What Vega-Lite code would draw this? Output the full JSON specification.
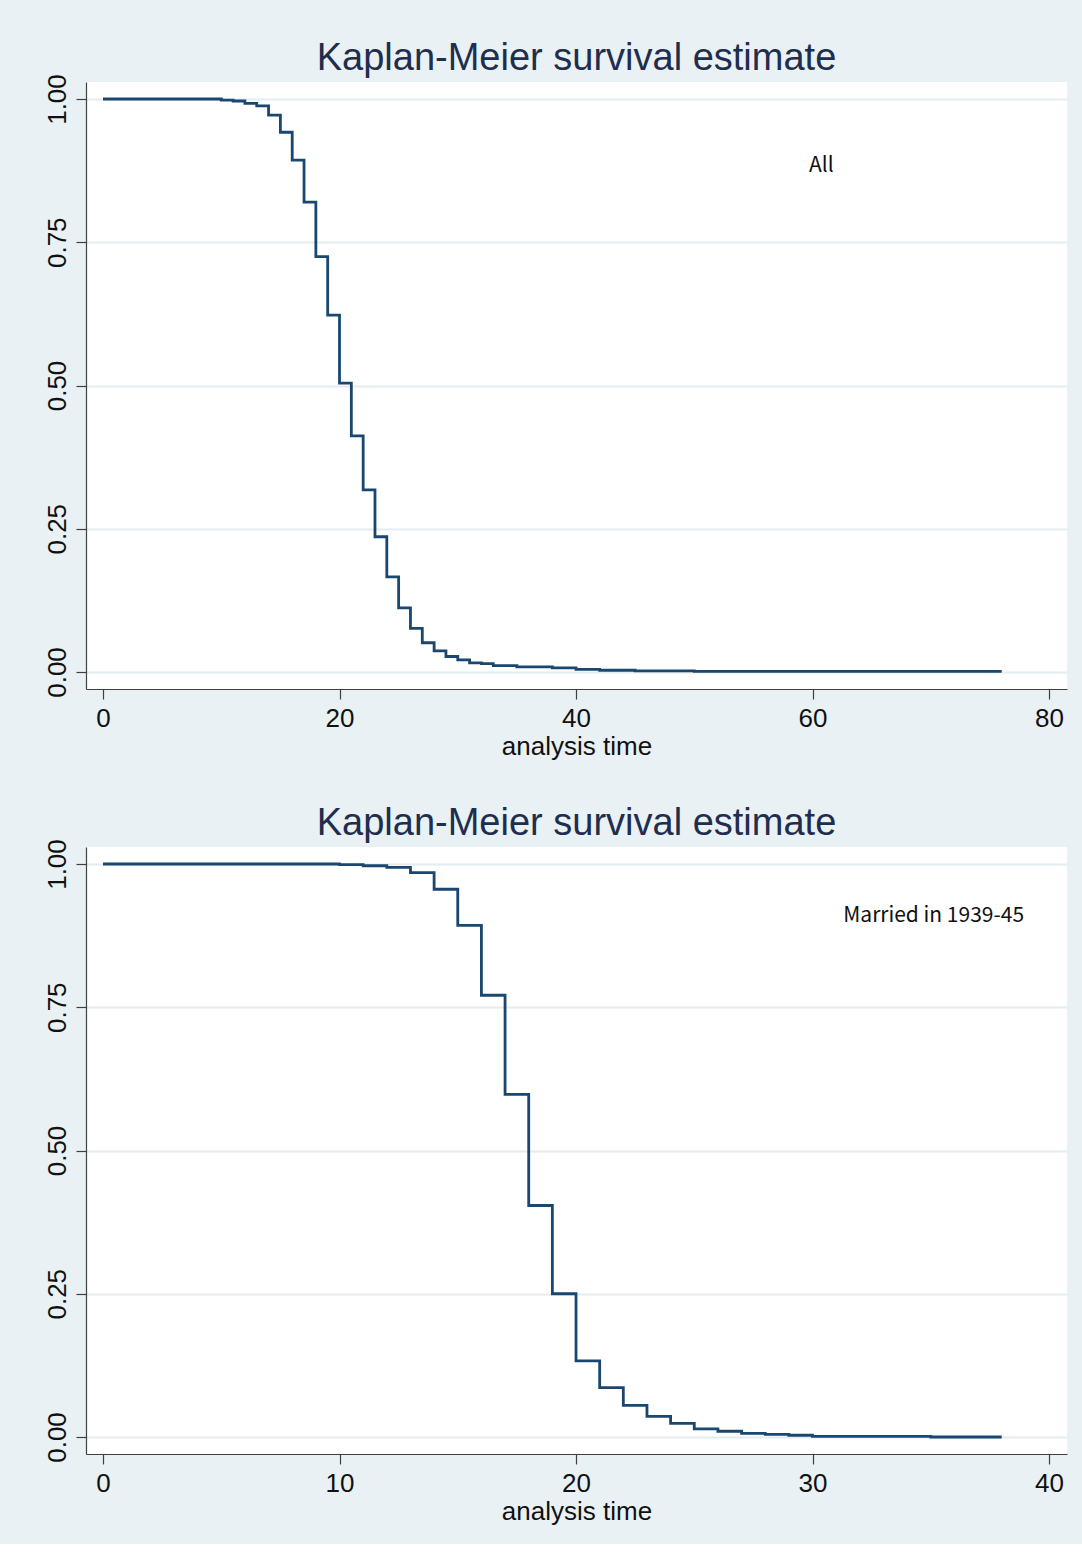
{
  "$schema": "https://vega.github.io/schema/vega-lite/v6.json",
  "background": "#e9f1f4",
  "padding": {"left": 44, "top": 39, "right": 15, "bottom": 20},
  "spacing": 45,
  "config": {
    "view": {"stroke": null, "fill": "white"},
    "font": "Liberation Sans",
    "title": {"fontSize": 38, "fontWeight": "normal", "color": "#1f2d4e", "font": "Liberation Sans", "anchor": "middle", "frame": "group", "offset": -4},
    "axis": {"labelFont": "Liberation Sans", "titleFont": "Liberation Sans", "labelFontSize": 26, "titleFontSize": 26, "labelColor": "#111", "titleColor": "#111", "titleFontWeight": "normal", "domainColor": "#404040", "tickColor": "#404040", "tickSize": 10, "domainWidth": 1.2, "tickWidth": 1.2},
    "axisX": {"grid": false, "labelPadding": 6, "titlePadding": 2},
    "axisY": {"gridColor": "#e3ecef", "gridWidth": 2, "labelAngle": -90, "labelAlign": "center", "labelBaseline": "bottom", "labelPadding": 6}
  },
  "datasets": {
    "all": [
      {"t": 0, "S": 1.0},
      {"t": 10, "S": 0.998},
      {"t": 11, "S": 0.9965},
      {"t": 12, "S": 0.9925},
      {"t": 13, "S": 0.988},
      {"t": 14, "S": 0.972},
      {"t": 15, "S": 0.942},
      {"t": 16, "S": 0.8935},
      {"t": 17, "S": 0.82},
      {"t": 18, "S": 0.725},
      {"t": 19, "S": 0.623},
      {"t": 20, "S": 0.504},
      {"t": 21, "S": 0.412},
      {"t": 22, "S": 0.318},
      {"t": 23, "S": 0.236},
      {"t": 24, "S": 0.166},
      {"t": 25, "S": 0.112},
      {"t": 26, "S": 0.076},
      {"t": 27, "S": 0.051},
      {"t": 28, "S": 0.037},
      {"t": 29, "S": 0.027},
      {"t": 30, "S": 0.021},
      {"t": 31, "S": 0.016},
      {"t": 32, "S": 0.0145},
      {"t": 33, "S": 0.011},
      {"t": 35, "S": 0.009},
      {"t": 38, "S": 0.007},
      {"t": 40, "S": 0.0047},
      {"t": 42, "S": 0.003},
      {"t": 45, "S": 0.002},
      {"t": 50, "S": 0.001},
      {"t": 76, "S": 0.001}
    ],
    "married": [
      {"t": 0, "S": 1.0},
      {"t": 10, "S": 0.999},
      {"t": 11, "S": 0.997},
      {"t": 12, "S": 0.994},
      {"t": 13, "S": 0.985},
      {"t": 14, "S": 0.956},
      {"t": 15, "S": 0.893},
      {"t": 16, "S": 0.771},
      {"t": 17, "S": 0.598},
      {"t": 18, "S": 0.404},
      {"t": 19, "S": 0.25},
      {"t": 20, "S": 0.133},
      {"t": 21, "S": 0.086},
      {"t": 22, "S": 0.055},
      {"t": 23, "S": 0.036},
      {"t": 24, "S": 0.0239},
      {"t": 25, "S": 0.014},
      {"t": 26, "S": 0.01},
      {"t": 27, "S": 0.0064},
      {"t": 28, "S": 0.0047},
      {"t": 29, "S": 0.003},
      {"t": 30, "S": 0.0012},
      {"t": 35, "S": 0.0},
      {"t": 38, "S": 0.0}
    ],
    "labels": [
      {"panel": "all", "t": 59.7, "S": 0.883, "label": "All"},
      {"panel": "married", "t": 31.3, "S": 0.909, "label": "Married in 1939-45"}
    ]
  },
  "vconcat": [
    {
      "title": "Kaplan-Meier survival estimate",
      "width": 981,
      "height": 607,
      "layer": [
        {
          "data": {"name": "all"},
          "mark": {"type": "line", "interpolate": "step-after", "color": "#1a476f", "strokeWidth": 2.8},
          "encoding": {
            "x": {"field": "t", "type": "quantitative", "scale": {"domain": [-1.438, 81.52], "nice": false, "zero": false}, "axis": {"values": [0, 20, 40, 60, 80], "title": "analysis time"}},
            "y": {"field": "S", "type": "quantitative", "scale": {"domain": [-0.0297, 1.0297], "nice": false, "zero": false}, "axis": {"values": [0, 0.25, 0.5, 0.75, 1], "format": ".2f", "title": null}}
          }
        },
        {
          "data": {"name": "labels"},
          "transform": [{"filter": "datum.panel == 'all'"}],
          "mark": {"type": "text", "align": "left", "baseline": "middle", "font": "Noto Sans CJK KR", "fontSize": 21, "color": "#111"},
          "encoding": {
            "x": {"field": "t", "type": "quantitative"},
            "y": {"field": "S", "type": "quantitative"},
            "text": {"field": "label"}
          }
        }
      ]
    },
    {
      "title": "Kaplan-Meier survival estimate",
      "width": 981,
      "height": 607,
      "layer": [
        {
          "data": {"name": "married"},
          "mark": {"type": "line", "interpolate": "step-after", "color": "#1a476f", "strokeWidth": 2.8},
          "encoding": {
            "x": {"field": "t", "type": "quantitative", "scale": {"domain": [-0.719, 40.76], "nice": false, "zero": false}, "axis": {"values": [0, 10, 20, 30, 40], "title": "analysis time"}},
            "y": {"field": "S", "type": "quantitative", "scale": {"domain": [-0.0297, 1.0297], "nice": false, "zero": false}, "axis": {"values": [0, 0.25, 0.5, 0.75, 1], "format": ".2f", "title": null}}
          }
        },
        {
          "data": {"name": "labels"},
          "transform": [{"filter": "datum.panel == 'married'"}],
          "mark": {"type": "text", "align": "left", "baseline": "middle", "font": "Noto Sans CJK KR", "fontSize": 21, "color": "#111"},
          "encoding": {
            "x": {"field": "t", "type": "quantitative"},
            "y": {"field": "S", "type": "quantitative"},
            "text": {"field": "label"}
          }
        }
      ]
    }
  ]
}
